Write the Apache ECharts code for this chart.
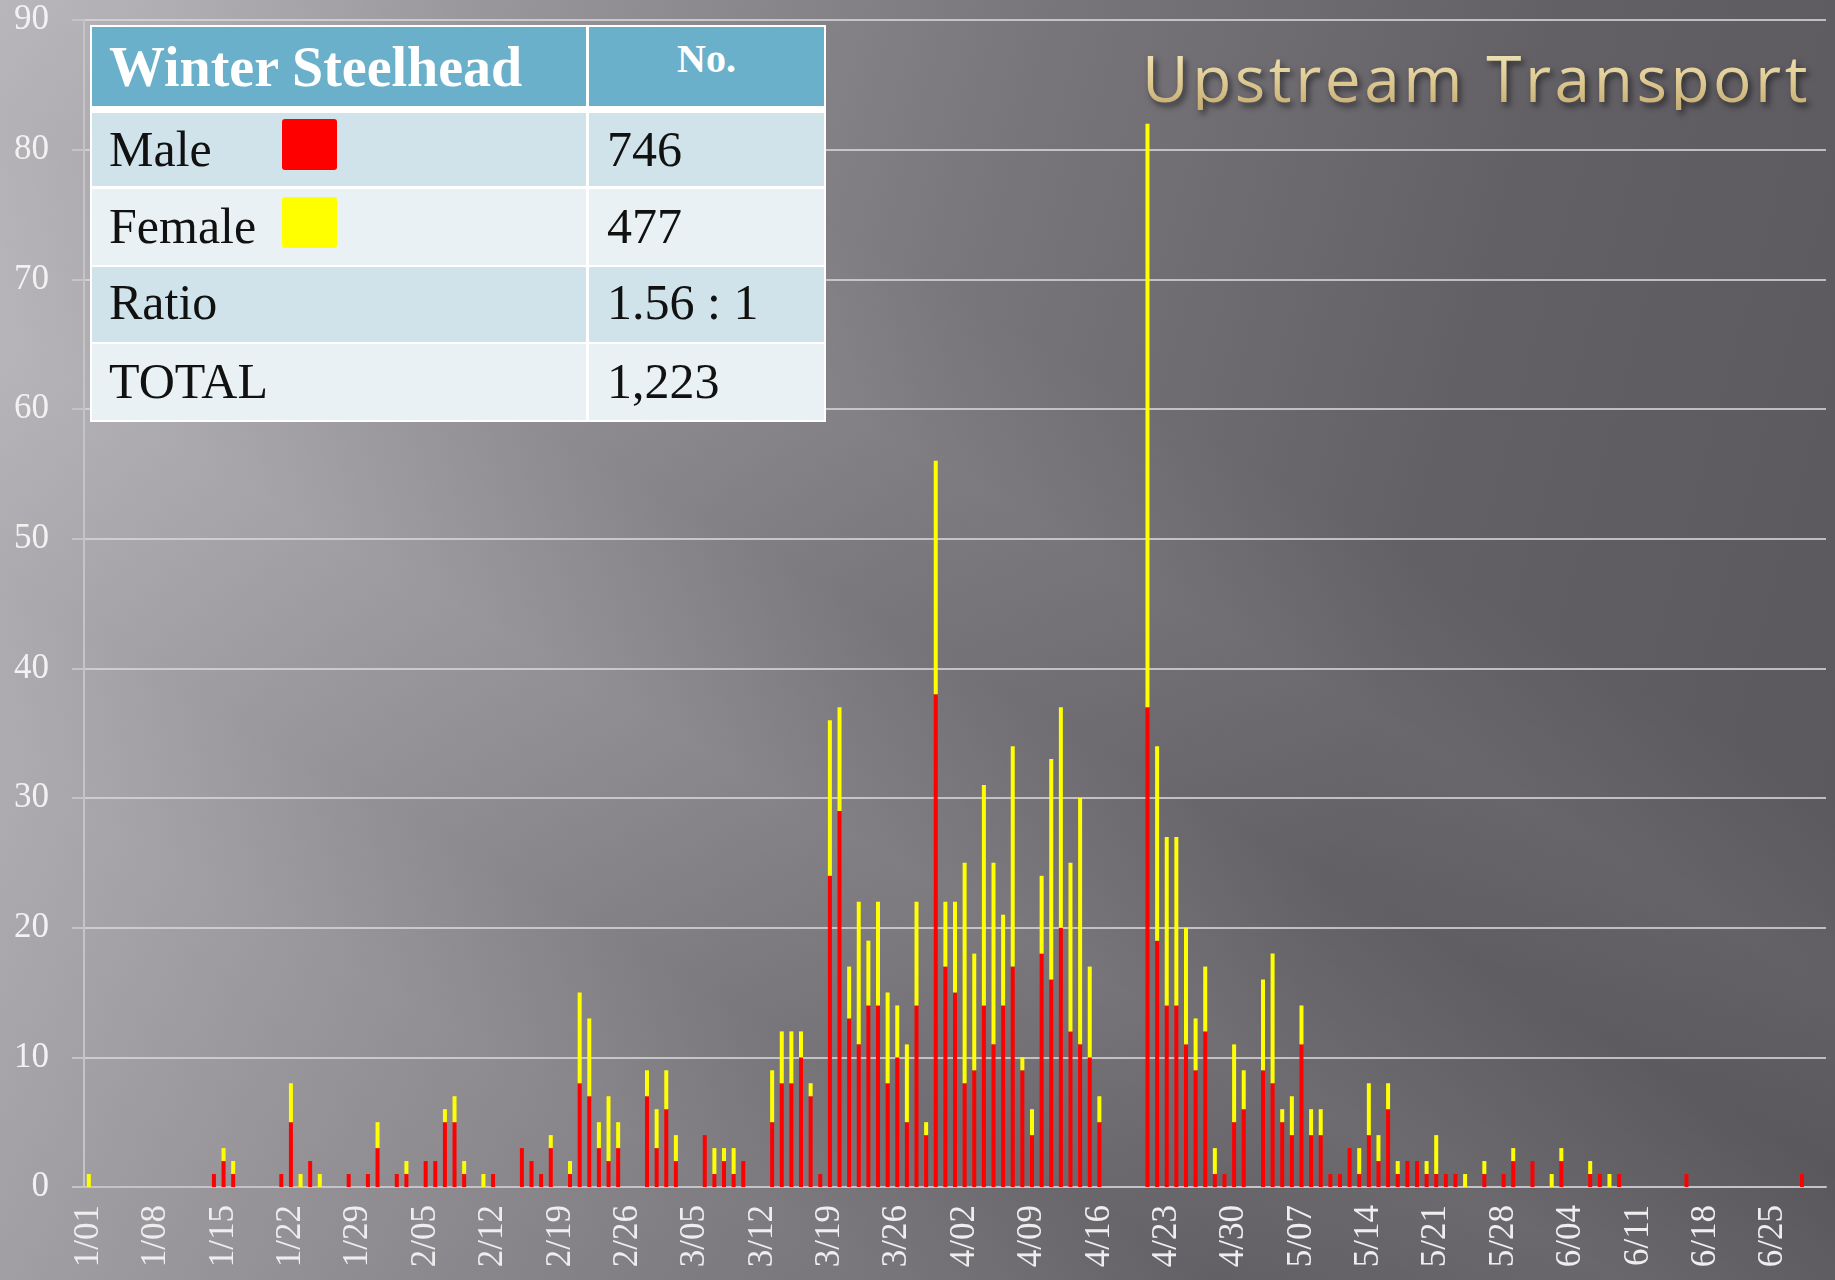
<!DOCTYPE html>
<html>
<head>
<meta charset="utf-8">
<script src="https://cdn.jsdelivr.net/npm/echarts@6/dist/echarts.min.js"></script>
<style>
  html, body { margin: 0; padding: 0; }
  #wrap {
    position: relative;
    width: 1835px;
    height: 1280px;
    overflow: hidden;
    background:
      linear-gradient(30deg, rgba(255,255,255,0) 0%, rgba(255,255,255,0.05) 22%, rgba(255,255,255,0) 30%, rgba(255,255,255,0.08) 40%, rgba(255,255,255,0) 50%, rgba(255,255,255,0.05) 58%, rgba(255,255,255,0) 66%),
      linear-gradient(105deg, #b6b4b9 0%, #959398 25%, #78767b 48%, #626065 72%, #59575c 100%);
  }
  #chart { position: absolute; left: 0; top: 0; width: 1835px; height: 1280px; }
  #title {
    position: absolute; right: 24px; top: 46px;
    font-family: "Open Sans", sans-serif; font-size: 64px; line-height: 1;
    letter-spacing: 3.5px;
    background: linear-gradient(180deg, #f4e8bc 0%, #e0cc95 50%, #c4ac72 100%);
    -webkit-background-clip: text; background-clip: text; color: transparent;
    filter: drop-shadow(3px 4px 3px rgba(0,0,0,0.55));
  }
  #tbl { position: absolute; left: 90px; top: 25px; width: 736px; height: 397px; background: #ffffff;
         font-family: "Liberation Serif", serif; }
  #tbl .c { position: absolute; }
  #tbl .t { position: absolute; line-height: 1; white-space: nowrap; }
  .sw { position: absolute; width: 55px; height: 51px; border-radius: 3px; }
</style>
</head>
<body>
<div id="wrap">
  <div id="chart"></div>
  <div id="title">Upstream Transport</div>
  <div id="tbl">
    <div class="c" style="left:2px;top:2px;width:494px;height:79px;background:#6bb0cb"></div>
    <div class="c" style="left:499px;top:2px;width:235px;height:79px;background:#6bb0cb"></div>
    <div class="c" style="left:2px;top:88px;width:494px;height:73px;background:#d1e3ea"></div>
    <div class="c" style="left:499px;top:88px;width:235px;height:73px;background:#d1e3ea"></div>
    <div class="c" style="left:2px;top:164px;width:494px;height:76px;background:#e9f1f4"></div>
    <div class="c" style="left:499px;top:164px;width:235px;height:76px;background:#e9f1f4"></div>
    <div class="c" style="left:2px;top:242px;width:494px;height:75px;background:#d1e3ea"></div>
    <div class="c" style="left:499px;top:242px;width:235px;height:75px;background:#d1e3ea"></div>
    <div class="c" style="left:2px;top:319px;width:494px;height:76px;background:#e9f1f4"></div>
    <div class="c" style="left:499px;top:319px;width:235px;height:76px;background:#e9f1f4"></div>

    <div class="t" style="left:19px;top:14px;font-size:56px;font-weight:bold;color:#fff">Winter Steelhead</div>
    <div class="t" style="left:499px;width:235px;text-align:center;top:14px;font-size:40px;font-weight:bold;color:#fff">No.</div>

    <div class="t" style="left:19px;top:99px;font-size:50px;color:#111">Male</div>
    <div class="sw" style="left:192px;top:94px;background:#ff0000"></div>
    <div class="t" style="left:517px;top:99px;font-size:50px;color:#111">746</div>

    <div class="t" style="left:19px;top:176px;font-size:50px;color:#111">Female</div>
    <div class="sw" style="left:192px;top:172px;background:#ffff00"></div>
    <div class="t" style="left:517px;top:176px;font-size:50px;color:#111">477</div>

    <div class="t" style="left:19px;top:252px;font-size:50px;color:#111">Ratio</div>
    <div class="t" style="left:517px;top:252px;font-size:50px;color:#111">1.56 : 1</div>

    <div class="t" style="left:19px;top:331px;font-size:50px;color:#111">TOTAL</div>
    <div class="t" style="left:517px;top:331px;font-size:50px;color:#111">1,223</div>
  </div>
</div>
<script>
// 月份与天数（非闰年）
const months = [1, 2, 3, 4, 5, 6]
const monthDays = [31, 28, 31, 30, 31, 30]

// 每周一行：1/01 起
const male = [
  0, 0, 0, 0, 0, 0, 0,
  0, 0, 0, 0, 0, 0, 1,
  2, 1, 0, 0, 0, 0, 1,
  5, 0, 2, 0, 0, 0, 1,
  0, 1, 3, 0, 1, 1, 0,
  2, 2, 5, 5, 1, 0, 0,
  1, 0, 0, 3, 2, 1, 3,
  0, 1, 8, 7, 3, 2, 3,
  0, 0, 7, 3, 6, 2, 0,
  0, 4, 1, 2, 1, 2, 0,
  0, 5, 8, 8, 10, 7, 1,
  24, 29, 13, 11, 14, 14, 8,
  10, 5, 14, 4, 38, 17, 15,
  8, 9, 14, 11, 14, 17, 9,
  4, 18, 16, 20, 12, 11, 10,
  5, 0, 0, 0, 0, 37, 19,
  14, 14, 11, 9, 12, 1, 1,
  5, 6, 0, 9, 8, 5, 4,
  11, 4, 4, 1, 1, 3, 1,
  4, 2, 6, 1, 2, 2, 1,
  1, 1, 1, 0, 0, 1, 0,
  1, 2, 0, 2, 0, 0, 2,
  0, 0, 1, 1, 0, 1, 0,
  0, 0, 0, 0, 0, 1, 0,
  0, 0, 0, 0, 0, 0, 0,
  0, 0, 0, 1, 0, 0
]
const female = [
  1, 0, 0, 0, 0, 0, 0,
  0, 0, 0, 0, 0, 0, 0,
  1, 1, 0, 0, 0, 0, 0,
  3, 1, 0, 1, 0, 0, 0,
  0, 0, 2, 0, 0, 1, 0,
  0, 0, 1, 2, 1, 0, 1,
  0, 0, 0, 0, 0, 0, 1,
  0, 1, 7, 6, 2, 5, 2,
  0, 0, 2, 3, 3, 2, 0,
  0, 0, 2, 1, 2, 0, 0,
  0, 4, 4, 4, 2, 1, 0,
  12, 8, 4, 11, 5, 8, 7,
  4, 6, 8, 1, 18, 5, 7,
  17, 9, 17, 14, 7, 17, 1,
  2, 6, 17, 17, 13, 19, 7,
  2, 0, 0, 0, 0, 45, 15,
  13, 13, 9, 4, 5, 2, 0,
  6, 3, 0, 7, 10, 1, 3,
  3, 2, 2, 0, 0, 0, 2,
  4, 2, 2, 1, 0, 0, 1,
  3, 0, 0, 1, 0, 1, 0,
  0, 1, 0, 0, 0, 1, 1,
  0, 0, 1, 0, 1, 0, 0,
  0, 0, 0, 0, 0, 0, 0,
  0, 0, 0, 0, 0, 0, 0,
  0, 0, 0, 0, 0, 0
]

const yTicks = { min: 0, max: 90, step: 10 }

const days = []
months.forEach((m, i) => {
  for (let d = 1; d <= monthDays[i]; d++) days.push(m + '/' + String(d).padStart(2, '0'))
})

const chart = echarts.init(document.getElementById('chart'))
const axisGray = '#c4c4c6'

chart.setOption({
  animation: false,
  grid: { left: 84, right: 9, top: 20, bottom: 93, outerBoundsMode: 'none' },
  xAxis: {
    type: 'category',
    data: days,
    axisLine: { lineStyle: { color: axisGray, width: 2 } },
    axisTick: { interval: 6, length: 9, lineStyle: { color: axisGray, width: 2 } },
    axisLabel: {
      interval: 6,
      rotate: 90,
      margin: 18,
      color: '#eeeeee',
      fontFamily: 'Liberation Serif',
      fontSize: 35
    }
  },
  yAxis: {
    type: 'value',
    min: yTicks.min,
    max: yTicks.max,
    interval: yTicks.step,
    axisLine: { show: true, lineStyle: { color: axisGray, width: 2 } },
    axisTick: { show: true, length: 12, lineStyle: { color: axisGray, width: 2 } },
    axisLabel: {
      margin: 35,
      color: '#f2f2f2',
      fontFamily: 'Liberation Serif',
      fontSize: 35
    },
    splitLine: { lineStyle: { color: 'rgba(215,215,218,0.8)', width: 2 } }
  },
  series: [
    {
      name: 'Male',
      type: 'bar',
      stack: 'fish',
      data: male,
      barWidth: 4,
      itemStyle: { color: '#ff0000' }
    },
    {
      name: 'Female',
      type: 'bar',
      stack: 'fish',
      data: female,
      barWidth: 4,
      itemStyle: { color: '#ffff00' }
    }
  ]
})
</script>
</body>
</html>
